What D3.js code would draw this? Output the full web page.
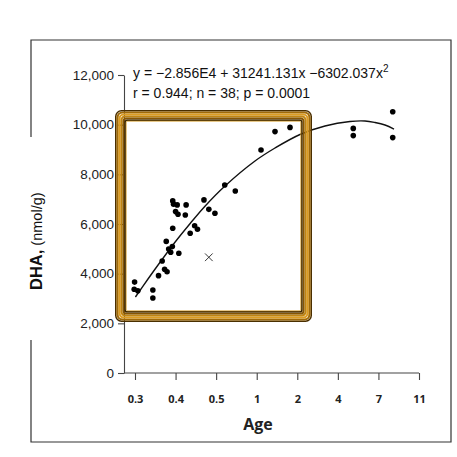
<!DOCTYPE html>
<html>
<head>
<meta charset="utf-8">
<script src="https://cdn.jsdelivr.net/npm/d3@7/dist/d3.min.js"></script>
<style>
  html, body { margin: 0; padding: 0; background: #fff; }
  svg { display: block; }
</style>
</head>
<body>
<svg id="chart" width="457" height="457"></svg>
<script>
// ---------- data ----------
const ageTicks = [0.3, 0.4, 0.5, 1, 2, 4, 7, 11];
const dhaTicks = [0, 2000, 4000, 6000, 8000, 10000, 12000];

const dotAge = [0.299, 0.298, 0.307, 0.344, 0.344, 0.358, 0.367, 0.373, 0.379, 0.377,
                0.383, 0.388, 0.392, 0.408, 0.393, 0.393, 0.395, 0.400, 0.406, 0.404,
                0.426, 0.424, 0.436, 0.447, 0.454, 0.470, 0.482, 0.497, 0.606, 0.736,
                1.106, 1.451, 1.821, 5.14, 5.14, 8.41, 8.41];
const dotDHA = [3660, 3370, 3310, 3340, 3020, 3920, 4510, 4180, 4080, 5300,
                4990, 4860, 5090, 4820, 5830, 6930, 6800, 6500, 6390, 6770,
                6770, 6360, 5630, 5930, 5790, 6970, 6590, 6430, 7570, 7330,
                8980, 9720, 9890, 9850, 9560, 10520, 9480];

const outlierAge = [0.482];
const outlierDHA = [4660];

const curveAge = [0.301, 0.332, 0.364, 0.399, 0.436, 0.473, 0.609, 0.979, 1.451,
                  2.134, 3.366, 4.898, 6.007, 6.746, 7.648, 8.535];
const curveDHA = [3060, 3785, 4510, 5275, 6020, 6725, 7530, 8537, 9060,
                  9604, 9946, 10127, 10148, 10087, 9986, 9825];

const eqLine1 = "y = \u22122.856E4 + 31241.131x \u22126302.037x";
const eqSup = "2";
const eqLine2 = "r = 0.944; n = 38; p = 0.0001";

// ---------- layout ----------
const svg = d3.select("#chart");
const xLeft = 135, xRight = 419, yBottom = 373, yTop = 75, axisX = 124;
const step = (xRight - xLeft) / (ageTicks.length - 1);

const x = d3.scaleLinear()
  .domain(ageTicks)
  .range(ageTicks.map((d, i) => xLeft + i * step));
const y = d3.scaleLinear().domain([0, 12000]).range([yBottom, yTop]);

// outer border (broken on the left for the axis title)
svg.append("path")
  .attr("d", "M31,137V40H451V442H31V340")
  .attr("fill", "none").attr("stroke", "#333").attr("stroke-width", 1.2);

// y axis
const yAxis = svg.append("g")
  .attr("transform", `translate(${axisX},0)`)
  .call(d3.axisLeft(y).tickValues(dhaTicks).tickSize(6).tickSizeOuter(0)
        .tickPadding(4).tickFormat(d3.format(",")));
yAxis.selectAll("path,line").attr("stroke", "#444").attr("stroke-width", 1.1);
yAxis.selectAll("text").attr("font-family", "Liberation Sans, Arial, sans-serif")
  .attr("font-size", 13.5).attr("fill", "#222");

// x axis
svg.append("line")
  .attr("x1", axisX).attr("x2", x(ageTicks[ageTicks.length - 1]))
  .attr("y1", yBottom).attr("y2", yBottom)
  .attr("stroke", "#444").attr("stroke-width", 1.1);
const xAxis = svg.append("g")
  .attr("transform", `translate(0,${yBottom})`)
  .call(d3.axisBottom(x).tickValues(ageTicks).tickSize(7).tickPadding(15)
        .tickFormat(d => String(d)));
xAxis.select(".domain").remove();
xAxis.selectAll("line").attr("stroke", "#444").attr("stroke-width", 1.1);
xAxis.selectAll("text").attr("font-family", "Open Sans, sans-serif")
  .attr("font-weight", 700).attr("font-size", 11).attr("fill", "#222");

// axis titles
svg.append("text")
  .attr("x", 258).attr("y", 430).attr("text-anchor", "middle")
  .attr("font-family", "Open Sans, sans-serif").attr("font-weight", 700)
  .attr("font-size", 16).attr("fill", "#222").text("Age");

const yt = svg.append("text")
  .attr("transform", "translate(42,290) rotate(-90)")
  .attr("font-family", "Liberation Sans, Arial, sans-serif").attr("fill", "#111");
yt.append("tspan").attr("font-weight", 700).attr("font-size", 16.5).text("DHA,");
yt.append("tspan").attr("font-size", 14.5).text(" (nmol/g)");

// equation
const eq = svg.append("g").attr("font-family", "Liberation Sans, Arial, sans-serif")
  .attr("font-size", 14).attr("fill", "#111");
const eq1 = eq.append("text").attr("x", 133).attr("y", 78);
eq1.append("tspan").text(eqLine1);
eq1.append("tspan").attr("font-size", 10).attr("dy", -6).text(eqSup);
eq.append("text").attr("x", 133).attr("y", 98).text(eqLine2);

// fitted curve
const pts = curveAge.map((a, i) => [a, curveDHA[i]]);
svg.append("path")
  .datum(pts)
  .attr("d", d3.line().x(d => x(d[0])).y(d => y(d[1])).curve(d3.curveCatmullRom))
  .attr("fill", "none").attr("stroke", "#111").attr("stroke-width", 1.4);

// dots
svg.append("g").selectAll("circle")
  .data(dotAge.map((a, i) => [a, dotDHA[i]]))
  .join("circle")
  .attr("cx", d => x(d[0])).attr("cy", d => y(d[1])).attr("r", 2.8)
  .attr("fill", "#000");

// outlier marker
svg.append("g").selectAll("path")
  .data(outlierAge.map((a, i) => [a, outlierDHA[i]]))
  .join("path")
  .attr("transform", d => `translate(${x(d[0])},${y(d[1])})`)
  .attr("d", d3.symbol(d3.symbolX, 40)())
  .attr("fill", "none").attr("stroke", "#222").attr("stroke-width", 0.9);

// golden frame overlay
const fx0 = 115, fy0 = 110, fx1 = 312, fy1 = 322;
const layers = [
  [0.75, 1.5, "#4a2f00"],
  [2.5, 2.2, "#a06a08"],
  [4.5, 2.2, "#dc9c22"],
  [6.5, 2.0, "#c08512"],
  [8.5, 2.0, "#865604"],
  [10.2, 1.5, "#3d2700"],
  [11.2, 0.8, "#d39a28"]
];
const frame = svg.append("g");
layers.forEach(([o, w, c]) => {
  frame.append("rect")
    .attr("x", fx0 + o).attr("y", fy0 + o)
    .attr("width", fx1 - fx0 - 2 * o).attr("height", fy1 - fy0 - 2 * o)
    .attr("rx", Math.max(6 - o * 0.4, 1.5))
    .attr("fill", "none").attr("stroke", c).attr("stroke-width", w);
});
</script>
</body>
</html>
